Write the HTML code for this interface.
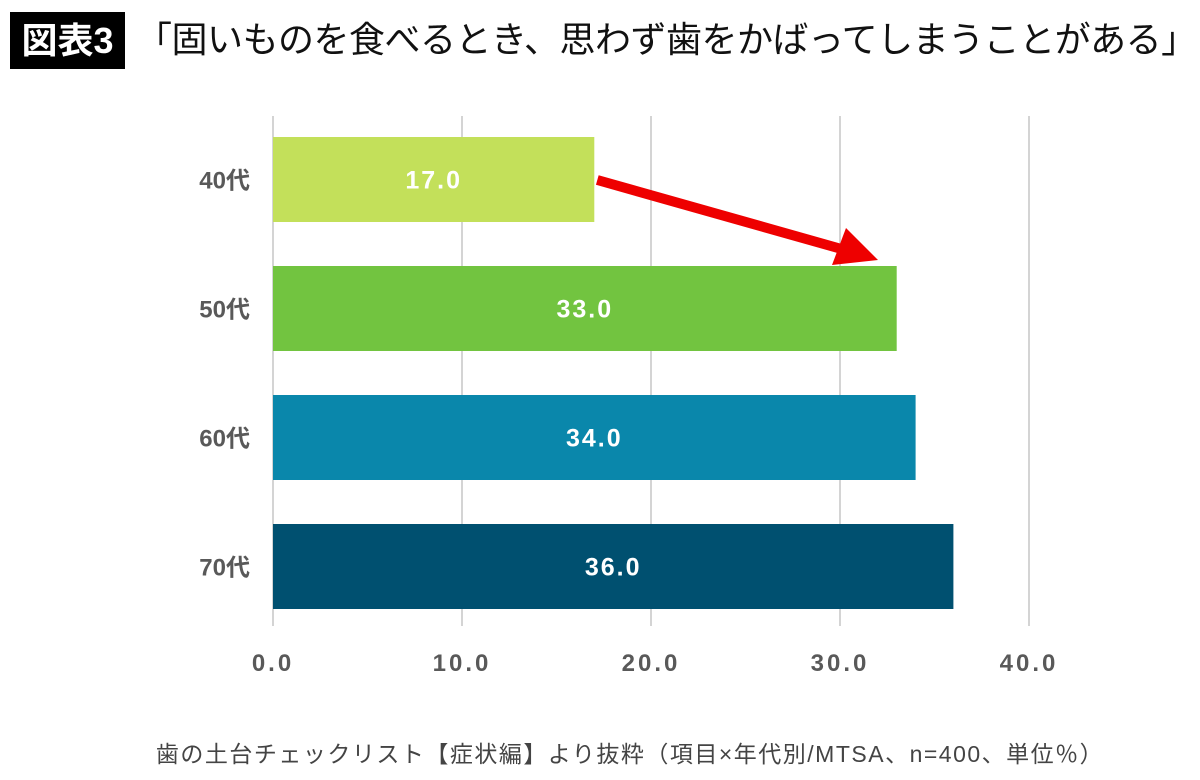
<!DOCTYPE html>
<html><head><meta charset="utf-8">
<style>
body{margin:0;width:1200px;height:780px;background:#fff;overflow:hidden;position:relative;font-family:"Liberation Sans","Noto Sans CJK JP",sans-serif}
.badge{position:absolute;left:10px;top:12px;width:115px;height:57px;background:#000;color:#fff;font-size:36px;font-weight:bold;text-align:center;line-height:57px}
.title{position:absolute;left:136px;top:14px;font-size:36px;color:#111;line-height:52px;white-space:nowrap;letter-spacing:-0.5px}
.foot{position:absolute;left:30px;width:1200px;top:735px;text-align:center;font-size:23px;color:#444;letter-spacing:1.5px}
</style></head><body>
<div class="badge">図表3</div>
<div class="title">「固いものを食べるとき、思わず歯をかばってしまうことがある」</div>
<svg id="chart" width="1200" height="780" style="position:absolute;left:0;top:0"></svg>
<div class="foot">歯の土台チェックリスト【症状編】より抜粋（項目×年代別/MTSA、n=400、単位％）</div>
<script>
const categories=["40代","50代","60代","70代"];
const values=[17.0,33.0,34.0,36.0];
const colors=["#c3e05a","#72c440","#0a87ab","#005070"];
const ticks=[0,10,20,30,40];
const NS="http://www.w3.org/2000/svg";
const svg=document.getElementById('chart');
const x=v=>273+v*18.9;
const yTop=i=>137+i*129;
const bh=85;
function mk(t,a){const e=document.createElementNS(NS,t);for(const k in a)e.setAttribute(k,a[k]);svg.appendChild(e);return e;}
ticks.forEach(t=>{
  const g=mk('line',{x1:x(t),x2:x(t),y1:116,y2:626,stroke:'#d4d4d4','stroke-width':2});
  
  
  const l=mk('text',{x:x(t),y:671,'text-anchor':'middle','font-size':24,'font-weight':'bold',fill:'#595959','letter-spacing':'3'});
  l.textContent=t.toFixed(1);
  
  
});
categories.forEach((c,i)=>{
  const r=mk('rect',{x:x(0),y:yTop(i),width:x(values[i])-x(0),height:bh,fill:colors[i]});
  
  
  const v=mk('text',{x:(x(0)+x(values[i]))/2,y:yTop(i)+bh/2+9,'text-anchor':'middle','font-size':25,'font-weight':'bold',fill:'#fff','letter-spacing':'2'});
  v.textContent=values[i].toFixed(1);
  
  
  const l=mk('text',{x:250,y:yTop(i)+bh/2+9,'text-anchor':'end','font-size':24,'font-weight':'bold',fill:'#595959'});
  l.textContent=c;
  
  
});
const a=mk('line',{x1:x(values[0])+3,y1:180,x2:845,y2:250,stroke:'#ee0000','stroke-width':10});


const h=mk('polygon',{points:'878,260 832,265 846,228',fill:'#ee0000'});


</script>
</body></html>
